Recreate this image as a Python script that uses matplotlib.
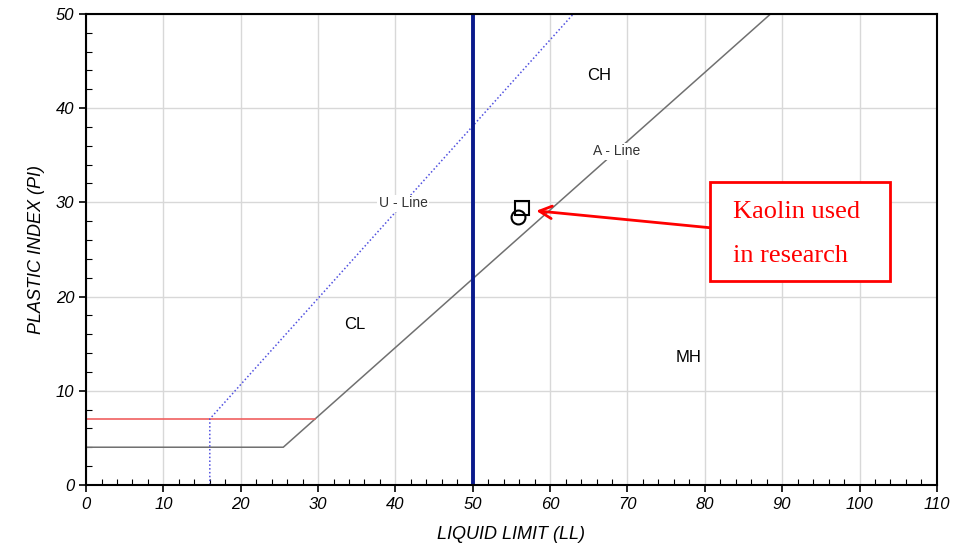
import matplotlib.pyplot as plt
from matplotlib.ticker import MultipleLocator
from matplotlib.patches import Rectangle

plt.rcParams['font.family'] = ['Liberation Sans', 'DejaVu Sans']

# chart lines (LL, PI)
a_line_ll = [0, 25.5, 88.5]
a_line_pi = [4, 4, 50]
red_ll = [0, 29.6]
red_pi = [7, 7]
u_line_ll = [16, 16, 63.0]
u_line_pi = [0, 7, 50]
ll_limit = 50

# kaolin samples
square_ll, square_pi = [56.3], [29.4]
circle_ll, circle_pi = [55.9], [28.4]

zone_labels = ['CH', 'CL', 'MH']
zone_x = [66.3, 34.8, 77.9]
zone_y = [43.5, 17.0, 13.5]

fig = plt.figure(figsize=(9.56, 5.58), dpi=100)
ax = fig.add_axes([0.09, 0.131, 0.89, 0.844])

ax.plot(a_line_ll, a_line_pi, color='#707070', lw=1.1)
ax.plot(red_ll, red_pi, color='#f06060', lw=1.2)
ax.plot(u_line_ll, u_line_pi, color='#5050e0', lw=1.1, ls=(0, (1, 1.5)))
ax.axvline(ll_limit, color='#0a1a8c', lw=2.8)

ax.plot(square_ll, square_pi, marker='s', ms=10, mfc='none', mec='black', mew=1.5, ls='none')
ax.plot(circle_ll, circle_pi, marker='o', ms=10, mfc='none', mec='black', mew=1.5, ls='none')

for lab, x, y in zip(zone_labels, zone_x, zone_y):
    ax.text(x, y, lab, fontsize=12, ha='center', va='center')

ax.text(68.6, 35.4, 'A - Line', fontsize=10, ha='center', va='center', color='#333333',
        bbox=dict(facecolor='white', edgecolor='none', pad=1))
ax.text(41.0, 29.9, 'U - Line', fontsize=10, ha='center', va='center', color='#333333',
        bbox=dict(facecolor='white', edgecolor='none', pad=1))

ax.set_xlim(0, 110)
ax.set_ylim(0, 50)
ax.xaxis.set_major_locator(MultipleLocator(10))
ax.xaxis.set_minor_locator(MultipleLocator(2))
ax.yaxis.set_major_locator(MultipleLocator(10))
ax.yaxis.set_minor_locator(MultipleLocator(2))
ax.tick_params(which='major', direction='out', length=5, width=1.2, labelsize=12)
ax.tick_params(which='minor', direction='in', length=4, width=0.8)
for lab in ax.get_xticklabels() + ax.get_yticklabels():
    lab.set_style('italic')
ax.grid(True, which='major', color='#d8d8d8', lw=1)
ax.set_axisbelow(True)
for s in ax.spines.values():
    s.set_linewidth(1.5)

ax.set_xlabel('LIQUID LIMIT (LL)', fontsize=13, style='italic', labelpad=10)
ax.set_ylabel('PLASTIC INDEX (PI)', fontsize=13, style='italic', labelpad=8)

# annotation box
ax.add_patch(Rectangle((80.7, 21.7), 23.2, 10.5, facecolor='white', edgecolor='red', lw=2, zorder=5))
ax.text(83.6, 29.0, 'Kaolin used', fontsize=19, color='red', va='center',
        family=['Liberation Serif'], zorder=6)
ax.text(83.6, 24.3, 'in research', fontsize=19, color='red', va='center',
        family=['Liberation Serif'], zorder=6)
ax.annotate('', xy=(58.2, 29.1), xytext=(80.7, 27.3),
            arrowprops=dict(arrowstyle='->,head_length=0.9,head_width=0.45', color='red', lw=2,
                            shrinkA=0, shrinkB=0))

fig.savefig('out.png', dpi=100)
